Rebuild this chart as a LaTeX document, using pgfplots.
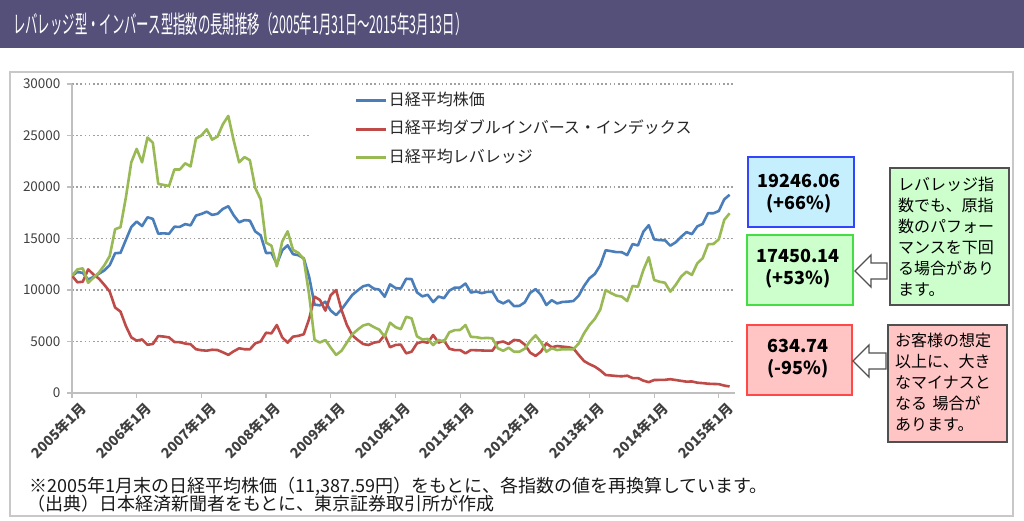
\documentclass[border=0pt]{standalone}
\usepackage{fontspec}
\setmainfont{Noto Sans CJK JP}
\usepackage{graphicx}
\usepackage{pgfplots}
\pgfplotsset{compat=1.18}
\usepackage{pgfplotstable}

\definecolor{nkblue}{HTML}{4A7EBB}
\definecolor{nkred}{HTML}{BE4B48}
\definecolor{nkgreen}{HTML}{98B954}
\definecolor{titlebar}{HTML}{54507A}
\definecolor{framegray}{HTML}{C8C8C8}
\definecolor{axisgray}{HTML}{BFBFBF}
\definecolor{gridgray}{HTML}{A0A0A0}
\definecolor{ticktext}{HTML}{404040}
\definecolor{bluefill}{HTML}{C6EFFE}
\definecolor{blueline}{HTML}{3344FF}
\definecolor{greenfill}{HTML}{CCFFCC}
\definecolor{greenline}{HTML}{44DD44}
\definecolor{redfill}{HTML}{FFC4C4}
\definecolor{redline}{HTML}{FF4848}
\definecolor{noteline}{HTML}{505050}

% month index (0 = 2005/1) : Nikkei, double inverse, leverage
\pgfplotstableread{
m nikkei inverse leverage
0 11388 11388 11388
1 11740 10750 12000
2 11669 10800 12100
3 11009 12000 10700
4 11277 11500 11200
5 11584 11100 11700
6 11900 10500 12400
7 12414 9840 13300
8 13574 8300 15900
9 13607 7900 16100
10 14872 6500 19000
11 16111 5400 22400
12 16650 5080 23700
13 16205 5200 22400
14 17060 4680 24800
15 16906 4760 24300
16 15467 5530 20300
17 15505 5480 20200
18 15457 5400 20100
19 16141 4950 21700
20 16128 4930 21700
21 16399 4800 22300
22 16274 4730 22000
23 17226 4250 24700
24 17383 4150 25000
25 17604 4110 25600
26 17288 4200 24600
27 17400 4170 24900
28 17876 3950 26100
29 18138 3700 26900
30 17249 4050 24500
31 16569 4340 22400
32 16786 4250 22900
33 16737 4240 22600
34 15681 4820 19900
35 15308 5000 18800
36 13592 5850 14600
37 13603 5790 14300
38 12526 6600 12300
39 13850 5400 14700
40 14339 4890 15700
41 13481 5470 13900
42 13377 5550 13600
43 13073 5700 13000
44 11260 7200 9500
45 8577 9350 5150
46 8512 9030 4900
47 8860 8000 5150
48 7994 9500 4400
49 7568 10000 3700
50 8110 8060 4100
51 8828 6600 4900
52 9523 5600 5700
53 9958 5150 6150
54 10357 4760 6550
55 10493 4660 6700
56 10133 4890 6400
57 10035 4980 6150
58 9346 5630 5470
59 10546 4440 6830
60 10198 4660 6400
61 10126 4700 6200
62 11090 3850 7400
63 11057 4010 7250
64 9769 4820 5500
65 9383 4980 5200
66 9537 4880 5250
67 8824 5630 4650
68 9369 4890 5150
69 9202 5100 4980
70 9937 4300 5900
71 10229 4170 6100
72 10238 4170 6120
73 10624 3850 6600
74 9755 4170 5450
75 9850 4150 5420
76 9694 4130 5320
77 9816 4110 5350
78 9833 4110 5310
79 8955 4890 4340
80 8700 5000 4100
81 8988 4760 4400
82 8435 5150 4010
83 8455 5100 4010
84 8803 4700 4300
85 9723 3920 5050
86 10084 3600 5600
87 9521 4010 4950
88 8543 4820 4010
89 9007 4440 4340
90 8695 4560 4170
91 8840 4500 4250
92 8870 4450 4250
93 8928 4340 4250
94 9446 3700 4800
95 10395 3100 5800
96 11139 2800 6600
97 11559 2560 7200
98 12398 2200 8100
99 13861 1750 10000
100 13775 1700 9700
101 13677 1650 9450
102 13668 1620 9360
103 13389 1680 8930
104 14456 1450 10390
105 14328 1450 10320
106 15662 1200 11940
107 16291 1050 13180
108 14915 1260 10970
109 14841 1270 10800
110 14828 1280 10710
111 14304 1340 9840
112 14632 1260 10500
113 15162 1180 11300
114 15621 1100 11780
115 15425 1120 11460
116 16174 1000 12590
117 16414 960 13080
118 17460 900 14440
119 17451 880 14470
120 17674 860 14920
121 18798 720 16800
122 19246 635 17450
}\indexdata

\begin{document}
\begin{tikzpicture}
% page, title bar, frame (1 unit = 1 px of the reference, y downwards)
\begin{scope}[x=1pt,y=-1pt]
  \path[use as bounding box] (0,0) rectangle (1024,521);
  \fill[white] (0,0) rectangle (1024,521);
  \fill[titlebar] (0,0) rectangle (1024,48);
  \node[anchor=west, inner sep=0pt, text=white] at (13,24)
    {\scalebox{0.505}[1]{\fontsize{24.5}{24.5}\selectfont レバレッジ型・インバース型指数の長期推移（2005年1月31日〜2015年3月13日）}};
  \draw[framegray, line width=1.5pt] (10,72) rectangle (1013,516);
\end{scope}

\begin{axis}[
  at={(72pt,-393pt)}, anchor=south west,
  scale only axis, width=663pt, height=309pt,
  xmin=0, xmax=123, ymin=0, ymax=30000,
  axis x line*=bottom, axis y line*=left,
  axis line style={axisgray, line width=1.6pt, -},
  xtick={0,12,...,120},
  xticklabels={2005年1月,2006年1月,2007年1月,2008年1月,2009年1月,2010年1月,2011年1月,2012年1月,2013年1月,2014年1月,2015年1月},
  ytick={0,5000,...,30000},
  ymajorgrids, grid style={gridgray, dash pattern=on 1.6pt off 2.6pt, line width=1.1pt},
  tick align=outside, major tick length=5pt,
  tick style={axisgray, line width=1.2pt},
  scaled y ticks=false,
  /pgf/number format/assume math mode=true,
  /pgf/number format/1000 sep={},
  tick label style={font=\fontsize{13.5}{13.5}\selectfont, text=ticktext},
  yticklabel style={xshift=-3pt},
  xticklabel style={font=\fontsize{14}{14}\selectfont\bfseries, rotate=45, anchor=east, inner sep=0pt, yshift=-14pt, xshift=3pt},
  legend style={draw=none, fill=none, at={(0.4268,0.974)}, anchor=north west,
    font=\fontsize{16}{16}\selectfont, row sep=11.5pt, inner sep=0pt,
    nodes={inner sep=1pt, text height=12pt, text depth=3pt, text=black!85}},
  legend cell align=left,
  legend image code/.code={\draw[#1, line width=2.6pt] (0pt,0pt) -- (30pt,0pt);},
]
\fill[white] (axis cs:44,20500) rectangle (axis cs:123,29500);
\addplot[nkblue, line width=2.6pt, line join=round, no markers] table[x=m, y=nikkei] {\indexdata};
\addlegendentry{日経平均株価}
\addplot[nkred, line width=2.6pt, line join=round, no markers] table[x=m, y=inverse] {\indexdata};
\addlegendentry{日経平均ダブルインバース・インデックス}
\addplot[nkgreen, line width=2.6pt, line join=round, no markers] table[x=m, y=leverage] {\indexdata};
\addlegendentry{日経平均レバレッジ}
\end{axis}

% value boxes, arrows, notes, footnote
\begin{scope}[x=1pt,y=-1pt]
  \draw[blueline, fill=bluefill, line width=1.5pt] (748,157) rectangle (854,227);
  \node[font=\fontsize{18}{22}\selectfont\bfseries, align=center] at (799,194) {19246.06\\(+66\%)};
  \draw[greenline, fill=greenfill, line width=1.5pt] (747,235) rectangle (853,305);
  \node[font=\fontsize{18}{22}\selectfont\bfseries, align=center] at (798,269) {17450.14\\(+53\%)};
  \draw[redline, fill=redfill, line width=1.5pt] (747,325) rectangle (852,395);
  \node[font=\fontsize{18}{22}\selectfont\bfseries, align=center] at (798,359) {634.74\\(-95\%)};

  \draw[noteline, fill=white, line width=1.3pt, line join=miter]
    (855,271) -- (871,255) -- (871,263) -- (887,263) -- (887,279) -- (871,279) -- (871,287) -- cycle;
  \draw[noteline, fill=white, line width=1.3pt, line join=miter]
    (853,361) -- (869,345) -- (869,353) -- (886,353) -- (886,369) -- (869,369) -- (869,377) -- cycle;

  \draw[noteline, fill=greenfill, line width=1.5pt] (890,168) rectangle (1009,305);
  \node[anchor=north west, inner sep=0pt, align=left, font=\fontsize{16}{21}\selectfont] at (898,177)
    {レバレッジ指\\数でも、原指\\数のパフォー\\マンスを下回\\る場合があり\\ます。};
  \draw[noteline, fill=redfill, line width=1.5pt] (888,325) rectangle (1007,442);
  \node[anchor=north west, inner sep=0pt, align=left, font=\fontsize{16}{21}\selectfont] at (895,333)
    {お客様の想定\\以上に、大き\\なマイナスと\\なる\,\,場合が\\あります。};

  \node[anchor=base west, inner sep=0pt, font=\fontsize{18}{18}\selectfont, text=black!90] at (29,492)
    {※2005年1月末の日経平均株価（11,387.59円）をもとに、各指数の値を再換算しています。};
  \node[anchor=base west, inner sep=0pt, font=\fontsize{18}{18}\selectfont, text=black!90] at (27,510)
    {（出典）日本経済新聞者をもとに、東京証券取引所が作成};
\end{scope}
\end{tikzpicture}
\end{document}
